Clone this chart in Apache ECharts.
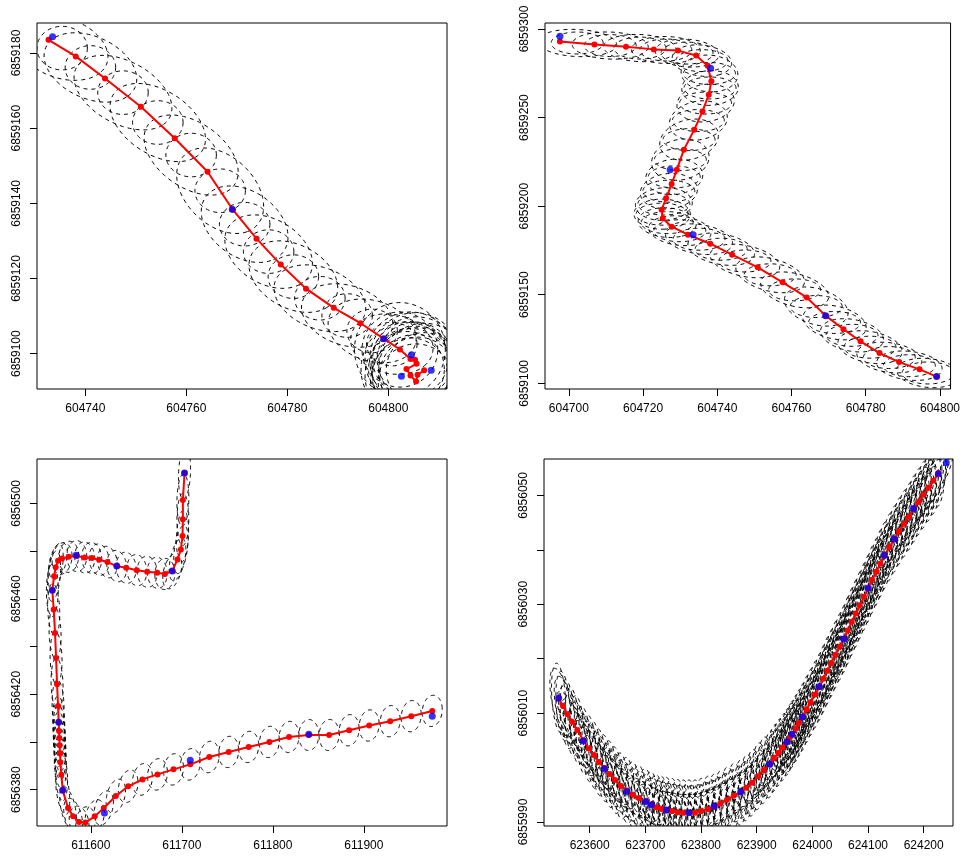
<!DOCTYPE html>
<html><head><meta charset="utf-8">
<script src="https://cdn.jsdelivr.net/npm/echarts@6/dist/echarts.min.js"></script>
<style>html,body{margin:0;padding:0;background:#fff}#c{width:963px;height:858px}</style>
</head><body><div id="c"></div>
<script>
// ---------- Panel 1 (top-left) ----------
const p1RedX = [604732.7,604738.1,604743.9,604751.0,604757.7,604764.2,604769.2,604773.9,604778.7,604783.7,604789.2,604794.5,604799.1,604802.3,
  604804.4,604805.3,604805.6,604803.6,604804.4,604805.5,604805.8,604807.1];
const p1RedY = [6859183.5,6859179.1,6859173.2,6859165.7,6859157.3,6859148.4,6859138.3,6859130.6,6859123.7,6859117.3,6859112.2,6859108.1,6859104.0,6859101.1,
  6859098.6,6859098.4,6859097.3,6859095.9,6859094.2,6859092.6,6859094.4,6859095.6];
const p1BlueX = [604733.5,604769.1,604799.1,604804.6,604802.6,604808.5];
const p1BlueY = [6859184.3,6859138.4,6859104.0,6859099.7,6859094.0,6859095.6];
const p1XTicks = [604740,604760,604780,604800];
const p1YTicks = [6859100,6859120,6859140,6859160,6859180];

// ---------- Panel 2 (top-right) ----------
const p2RedX = [604697.6,604706.9,604715.4,604722.9,604729.4,604734.3,604737.4,604738.4,604737.7,604736.0,604733.8,604731.0,604729.1,604727.7,604726.2,604725.0,604725.3,604727.7,604732.1,604738.1,604744.0,604750.9,604757.6,604764.1,604769.2,604774.0,604778.6,604783.7,604789.0,604794.5,604799.1];
const p2RedY = [6859292.9,6859291.3,6859290.0,6859288.5,6859287.8,6859285.0,6859279.3,6859270.5,6859262.9,6859253.5,6859243.2,6859231.9,6859220.6,6859212.5,6859204.4,6859198.0,6859193.0,6859188.4,6859183.9,6859178.8,6859172.6,6859165.5,6859157.0,6859148.5,6859138.2,6859130.5,6859123.7,6859117.1,6859112.0,6859107.9,6859103.8];
const p2BlueX = [604697.6,604738.2,604727.3,604733.5,604769.2,604799.1];
const p2BlueY = [6859295.9,6859277.8,6859220.6,6859183.9,6859138.2,6859103.8];
const p2XTicks = [604700,604720,604740,604760,604780,604800];
const p2YTicks = [6859100,6859150,6859200,6859250,6859300];

// ---------- Panel 3 (bottom-left) ----------
const p3RedX = [611703.0,611701.2,611701.2,611700.8,611699.0,611695.3,611689.5,611681.4,611673.0,611662.0,611650.6,611638.9,611628.6,611618.3,611609.2,611601.1,611593.4,611584.6,611575.8,611568.5,611564.1,611561.5,611559.7,611557.8,611559.3,611560.8,611561.9,611563.0,611564.1,611564.8,611565.2,611565.5,611565.9,611566.3,611566.6,611567.7,611569.2,611575.1,611580.6,611587.2,611594.1,611604.4,611614.3,611627.5,611641.1,611656.8,611673.3,611690.9,611709.3,611730.2,611751.5,611773.5,611796.2,611817.8,611839.5,611861.8,611883.8,611905.8,611928.9,611952.0,611975.1];
const p3RedY = [6856512.7,6856501.4,6856493.3,6856486.3,6856480.7,6856476.5,6856471.6,6856470.4,6856470.9,6856471.3,6856472.0,6856473.0,6856473.7,6856475.4,6856476.4,6856477.1,6856477.3,6856477.9,6856477.6,6856476.9,6856475.9,6856473.2,6856469.5,6856463.6,6856455.5,6856445.7,6856435.2,6856424.2,6856415.1,6856408.3,6856404.6,6856401.7,6856398.6,6856395.1,6856391.5,6856386.2,6856379.7,6856372.3,6856368.8,6856366.4,6856366.2,6856368.8,6856372.3,6856377.3,6856381.4,6856384.3,6856386.4,6856388.5,6856390.6,6856393.7,6856395.8,6856397.9,6856400.0,6856402.1,6856402.9,6856402.9,6856404.9,6856406.9,6856408.7,6856410.8,6856413.0];
const p3BlueX = [611703.0,611689.5,611628.6,611583.9,611557.8,611564.8,611569.2,611615.0,611709.3,611839.5,611975.1];
const p3BlueY = [6856512.7,6856471.6,6856473.7,6856478.3,6856463.6,6856408.3,6856379.7,6856370.2,6856392.3,6856403.2,6856410.8];
const p3XTicks = [611600,611700,611800,611900];
const p3YTicks = [6856380,6856400,6856420,6856440,6856460,6856480,6856500];
const p3YLabels = [6856380,6856420,6856460,6856500];

// ---------- Panel 4 (bottom-right) ----------
const p4RedX = [623544.3,623552.1,623559.9,623568.3,623577.8,623588.6,623598.8,623607.8,623616.8,623626.3,623635.9,623645.5,623656.3,623667.1,623677.8,623688.6,623700.6,623710.8,623719.8,623728.7,623737.7,623747.9,623758.1,623768.3,623778.4,623789.2,623800.6,623812.0,623823.4,623834.7,623846.7,623858.7,623871.3,623881.4,623891.6,623902.4,623912.6,623923.4,623931.1,623938.9,623946.7,623954.5,623959.3,623963.5,623970.1,623976.0,623982.6,623989.8,623997.0,624004.8,624012.6,624019.8,624026.9,624034.1,624041.3,624049.1,624056.3,624063.5,624070.7,624077.9,624085.0,624092.8,624100.0,624107.2,624115.0,624122.2,624129.3,624138.3,624147.3,624155.7,624164.7,624173.7,624182.0,624190.4,624199.4,624208.4,624217.4,624226.4];
const p4RedY = [6856012.8,6856011.3,6856009.8,6856008.4,6856006.9,6856005.0,6856003.5,6856002.3,6856001.0,6855999.9,6855998.8,6855997.7,6855996.6,6855995.8,6855995.0,6855994.4,6855993.8,6855993.2,6855992.7,6855992.4,6855992.2,6855992.0,6855991.8,6855991.7,6855991.7,6855991.7,6855992.0,6855992.4,6855992.8,6855993.4,6855994.1,6855994.8,6855995.5,6855996.3,6855997.2,6855998.4,6855999.5,6856000.6,6856001.7,6856002.7,6856003.7,6856004.7,6856005.5,6856006.1,6856007.2,6856008.2,6856009.3,6856010.7,6856012.0,6856013.4,6856014.8,6856016.3,6856017.8,6856019.2,6856020.7,6856022.2,6856023.6,6856025.2,6856026.8,6856028.3,6856029.8,6856031.4,6856032.9,6856034.5,6856036.0,6856037.5,6856038.9,6856040.5,6856042.0,6856043.4,6856044.8,6856046.1,6856047.5,6856048.8,6856050.1,6856051.4,6856052.7,6856054.1];
const p4BlueX = [623544.3,623588.6,623626.4,623667.1,623700.6,623710.8,623737.7,623778.4,623823.4,623871.3,623923.4,623954.5,623963.5,623982.6,624012.6,624056.3,624100.0,624129.3,624147.3,624182.0,624226.4,624240.7];
const p4BlueY = [6856012.8,6856004.9,6855999.8,6855995.6,6855993.7,6855993.1,6855992.2,6855991.7,6855992.9,6855995.5,6856000.6,6856004.7,6856006.1,6856009.3,6856014.9,6856023.6,6856033.0,6856039.0,6856042.0,6856047.6,6856054.0,6856056.0];
const p4XTicks = [623600,623700,623800,623900,624000,624100,624200];
const p4YTicks = [6855990,6856000,6856010,6856020,6856030,6856040,6856050];
const p4YLabels = [6855990,6856010,6856030,6856050];

// ---------- layout / ellipse styling (sizes in map units) ----------
const panels = [
  {rx:p1RedX, ry:p1RedY, bx:p1BlueX, by:p1BlueY, xt:p1XTicks, yt:p1YTicks, yl:p1YTicks,
   xr:[604730.42,604811.63], yr:[6859090.6,6859187.98], grid:{left:37,top:23,width:410,height:366},
   ell:[{kind:'mid', a:5.0, b:5.8, to:13}, {kind:'seg', ext:6.5, b:7.5, to:13},
        {kind:'pts', a:9, b:12.5, from:13}, {kind:'pts', a:7.5, b:10, from:13}]},
  {rx:p2RedX, ry:p2RedY, bx:p2BlueX, by:p2BlueY, xt:p2XTicks, yt:p2YTicks, yl:p2YTicks,
   xr:[604693.58,604802.85], yr:[6859096.8,6859303.39], grid:{left:545,top:23,width:408,height:366},
   ell:[{kind:'mid', a:7, b:6.2}, {kind:'seg', ext:6, b:7.6}]},
  {rx:p3RedX, ry:p3RedY, bx:p3BlueX, by:p3BlueY, xt:p3XTicks, yt:p3YTicks, yl:p3YLabels,
   xr:[611540.96,611991.3], yr:[6856364.76,6856518.6], grid:{left:37,top:459,width:410,height:367},
   ell:[{kind:'pts', a:11, b:6.5, rot:true}]},
  {rx:p4RedX, ry:p4RedY, bx:p4BlueX, by:p4BlueY, xt:p4XTicks, yt:p4YTicks, yl:p4YLabels,
   xr:[623517.96,624252.7], yr:[6855989.26,6856056.69], grid:{left:544,top:459,width:409,height:367},
   ell:[{kind:'pts', a:28, b:3.4, rot:true, from:3}, {kind:'mid', a:20, b:5, rot:true}, {kind:'pts', a:13, b:6, rot:true}]}
];

function dirAt(p,i){
  const n=p.rx.length, i0=Math.max(0,i-1), i1=Math.min(n-1,i+1);
  return Math.atan2(p.ry[i1]-p.ry[i0], p.rx[i1]-p.rx[i0]);
}
function buildEllipses(p){
  const out=[]; const n=p.rx.length;
  p.ell.forEach(e=>{
    const from=e.from||0, to=e.to==null?n:e.to;
    if (e.kind==='pts'){
      for (let i=from;i<to;i++) out.push([p.rx[i],p.ry[i],e.a,e.b,e.rot?dirAt(p,i):0]);
    } else if (e.kind==='mid'){
      for (let i=from;i<Math.min(to,n-1);i++){
        const th=Math.atan2(p.ry[i+1]-p.ry[i], p.rx[i+1]-p.rx[i]);
        out.push([(p.rx[i]+p.rx[i+1])/2,(p.ry[i]+p.ry[i+1])/2,e.a,e.b,e.rot?th:0]);
      }
    } else if (e.kind==='seg'){
      for (let i=from;i<Math.min(to,n-1);i++){
        const dx=p.rx[i+1]-p.rx[i], dy=p.ry[i+1]-p.ry[i];
        const c=Math.sqrt(dx*dx+dy*dy)/2;
        out.push([(p.rx[i]+p.rx[i+1])/2,(p.ry[i]+p.ry[i+1])/2,c+e.ext,e.b,Math.atan2(dy,dx)]);
      }
    }
  });
  return out;
}

const font = {color:'#000', fontSize:12, fontFamily:'"Liberation Sans", Arial, Helvetica, sans-serif',
  formatter:function(v){return String(v);}};
const option = {animation:false, grid:[], xAxis:[], yAxis:[], series:[]};
panels.forEach((p,k)=>{
  option.grid.push(Object.assign({show:true, borderColor:'#000', borderWidth:1, backgroundColor:'transparent'}, p.grid));
  option.xAxis.push({gridIndex:k, type:'value', min:p.xr[0], max:p.xr[1], splitLine:{show:false},
    axisLine:{show:false},
    axisTick:{show:true, length:7, lineStyle:{color:'#000', width:1}, customValues:p.xt},
    axisLabel:Object.assign({margin:14, customValues:p.xt}, font)});
  option.yAxis.push({gridIndex:k, type:'value', min:p.yr[0], max:p.yr[1], splitLine:{show:false},
    axisLine:{show:false},
    axisTick:{show:true, length:7, lineStyle:{color:'#000', width:1}, customValues:p.yt},
    axisLabel:Object.assign({margin:14, rotate:90, customValues:p.yl}, font)});
  option.series.push({type:'custom', xAxisIndex:k, yAxisIndex:k, clip:true, silent:true, z:1,
    data:buildEllipses(p), encode:{x:0,y:1},
    renderItem:function(params, api){
      const cx=api.value(0), cy=api.value(1), a=api.value(2), b=api.value(3), th=api.value(4);
      const ct=Math.cos(th), st=Math.sin(th); const pts=[];
      for (let j=0;j<90;j++){const t=2*Math.PI*j/90; const ex=a*Math.cos(t), ey=b*Math.sin(t);
        pts.push(api.coord([cx+ex*ct-ey*st, cy+ex*st+ey*ct]));}
      return {type:'polygon', shape:{points:pts}, style:{fill:'none', stroke:'#000', lineWidth:1, lineDash:[4,4]}};
    }});
  option.series.push({type:'line', xAxisIndex:k, yAxisIndex:k, z:2, silent:true,
    data:p.rx.map((x,i)=>[x,p.ry[i]]), symbol:'circle', symbolSize:6,
    itemStyle:{color:'#ff0000'}, lineStyle:{color:'#ff0000', width:2}});
  option.series.push({type:'scatter', xAxisIndex:k, yAxisIndex:k, z:3, silent:true,
    data:p.bx.map((x,i)=>[x,p.by[i]]), symbol:'circle', symbolSize:7, itemStyle:{color:'#0000ff'}});
});
const chart = echarts.init(document.getElementById('c'), null, {renderer:'canvas'});
chart.setOption(option);
</script></body></html>
